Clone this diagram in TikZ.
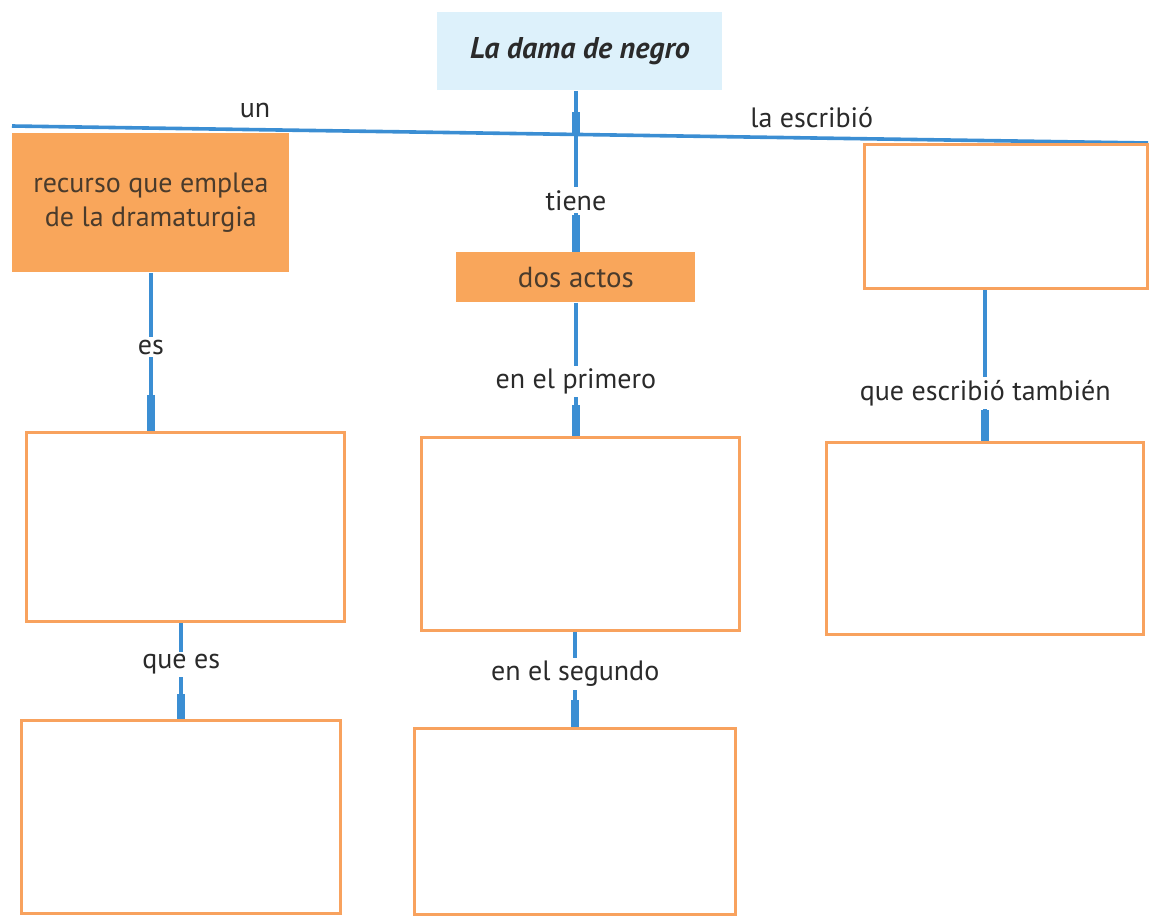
\documentclass[tikz,border=0pt]{standalone}
\usepackage{fontspec}
\setmainfont{PT Sans}
\usetikzlibrary{calc}
\definecolor{lblue}{HTML}{3B8ED3}
\definecolor{orfill}{HTML}{F9A65B}
\definecolor{orline}{HTML}{F8A25E}
\definecolor{topfill}{HTML}{DDF1FB}
\definecolor{txt}{HTML}{2A2A2A}
\definecolor{boxtxt}{HTML}{4A3B2C}
\begin{document}
\begin{tikzpicture}[x=0.5pt,y=-0.5pt,
  conn/.style={draw=lblue, line width=1.8pt},
  stub/.style={draw=lblue, line width=3.8pt},
  lab/.style={fill=white, inner sep=1.5pt, text=txt, font=\fontsize{14}{16}\selectfont},
  toplab/.style={inner sep=1pt, text=txt, font=\fontsize{14}{16}\selectfont},
  obox/.style={draw=orline, line width=1.7pt, fill=white, anchor=north west, inner sep=0pt},
  fbox/.style={fill=orfill, anchor=north west, inner sep=0pt, text=boxtxt, align=center, font=\fontsize{14}{17}\selectfont},
  tbox/.style={fill=topfill, anchor=north west, inner sep=0pt, text=txt, font=\fontsize{15}{18}\selectfont\bfseries\itshape}
]
\useasboundingbox (0,0) rectangle (1158,916);
% horizontal bar
\coordinate (hl) at (12,126);
\coordinate (hr) at (1148,143);
\coordinate (jc) at (576,134);
\draw[conn] (hl) -- (hr)
  node[toplab, pos=0.214, above=4pt] (lun) {un}
  node[toplab, pos=0.704, above=3pt] (lesc) {la escribió};
% nodes
\node[tbox, minimum width=142.5pt, minimum height=39pt] (top) at (437,12) {La dama de negro};
\node[fbox, minimum width=138.5pt, minimum height=69.5pt] (lb1) at (12,133) {recurso que emplea\\de la dramaturgia};
\node[fbox, minimum width=119.5pt, minimum height=25pt, font=\fontsize{14.5}{17}\selectfont] (dos) at (456,252) {dos actos};
\node[obox, minimum width=141.5pt, minimum height=72pt] (rb1) at (863,143) {};
\node[obox, minimum width=159pt, minimum height=94.5pt] (lb2) at (25,431) {};
\node[obox, minimum width=159.5pt, minimum height=96.5pt] (lb3) at (20,719) {};
\node[obox, minimum width=159pt, minimum height=96.5pt] (cb2) at (420,436) {};
\node[obox, minimum width=160.5pt, minimum height=93pt] (cb3) at (413,727) {};
\node[obox, minimum width=158.5pt, minimum height=96pt] (rb2) at (825,441) {};
% connectors
\draw[conn] (dos.north |- top.south) -- (dos.north) node[lab, pos=0.68] {tiene};
\draw[stub] ($(jc)+(0,-22)$) -- (jc);
\draw[stub] ($(dos.north)+(0,-37)$) -- (dos.north);

\draw[conn] (lb1.south) -- (lb1.south |- lb2.north) coordinate (e1) node[lab, pos=0.47] {es};
\draw[stub] ($(e1)+(0,-36)$) -- (e1);

\draw[conn] (lb3.north |- lb2.south) -- (lb3.north) node[lab, pos=0.43] {que es};
\draw[stub] ($(lb3.north)+(0,-25)$) -- (lb3.north);

\draw[conn] (dos.south) -- (dos.south |- cb2.north) coordinate (e2) node[lab, pos=0.59] {en el primero};
\draw[stub] ($(e2)+(0,-31)$) -- (e2);

\draw[conn] (cb3.north |- cb2.south) -- (cb3.north) node[lab, pos=0.44] {en el segundo};
\draw[stub] ($(cb3.north)+(0,-27)$) -- (cb3.north);

\draw[conn] (rb1.south -| rb2.north) -- (rb2.north) node[lab, pos=0.68] {que escribió también};
\draw[stub] ($(rb2.north)+(0,-31)$) -- (rb2.north);
\end{tikzpicture}
\end{document}
